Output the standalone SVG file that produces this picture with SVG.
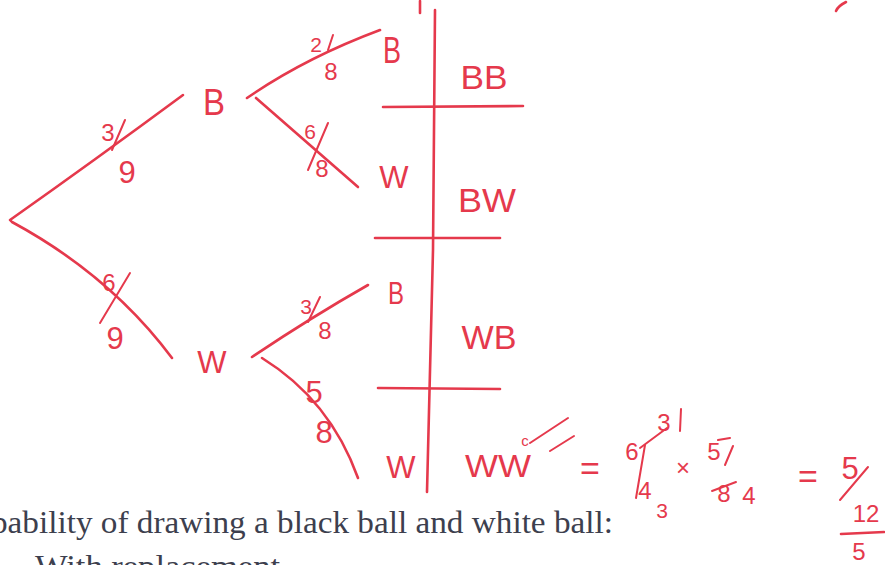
<svg xmlns="http://www.w3.org/2000/svg" width="885" height="565" viewBox="0 0 885 565">
<style>
.ln{fill:none;stroke:#e5394c;stroke-width:2.6;stroke-linecap:round;stroke-linejoin:round}
.thin{fill:none;stroke:#e5394c;stroke-width:2;stroke-linecap:round}
.hw{font-family:"Liberation Sans",Arial,sans-serif;fill:#e5394c;text-anchor:middle}
.big{font-size:36px}
.mid{font-size:31px}
.cell{font-size:34px}
.fr{font-size:24px}
.fs{font-size:21px}
.sm{font-size:15px}
.pr{font-family:"Liberation Serif","Times New Roman",serif;fill:#3d3f4e;font-size:31px}
</style>
<rect width="885" height="565" fill="#ffffff"/>

<g id="connectors">
  <path class="ln" d="M10,220 Q95,160 183,95"/>
  <path class="ln" d="M12,222 Q110,275 172,358"/>
  <path class="ln" d="M247,98 Q305,58 380,30"/>
  <path class="ln" d="M256,98 Q310,145 358,187"/>
  <path class="ln" d="M252,357 Q310,318 368,285"/>
  <path class="ln" d="M262,358 Q330,400 358,478"/>
</g>

<g id="table">
  <path class="ln" d="M435,10 L433,250 L427,492"/>
  <path class="ln" d="M420,1 L420,13"/>
  <path class="ln" d="M383,107 L523,106"/>
  <path class="ln" d="M375,238 L500,238"/>
  <path class="ln" d="M378,388 L500,389"/>
</g>

<g id="root"><circle cx="11" cy="221" r="1.2" fill="#e5394c"/></g>

<g id="node-B1"><text class="hw big" x="214" y="115" textLength="22" lengthAdjust="spacingAndGlyphs">B</text></g>
<g id="node-W1"><text class="hw mid" x="212" y="373">W</text></g>

<g id="leaf-BB"><text class="hw big" x="392" y="63" textLength="18" lengthAdjust="spacingAndGlyphs">B</text></g>
<g id="leaf-BW"><text class="hw mid" x="394" y="188">W</text></g>
<g id="leaf-WB"><text class="hw mid" x="396" y="304" textLength="16" lengthAdjust="spacingAndGlyphs">B</text></g>
<g id="leaf-WW"><text class="hw mid" x="401" y="478">W</text></g>

<g id="cell-BB"><text class="hw cell" x="484" y="89" textLength="47" lengthAdjust="spacingAndGlyphs">BB</text></g>
<g id="cell-BW"><text class="hw cell" x="487" y="212" textLength="58" lengthAdjust="spacingAndGlyphs">BW</text></g>
<g id="cell-WB"><text class="hw cell" x="489" y="349" textLength="55" lengthAdjust="spacingAndGlyphs">WB</text></g>

<g id="label-3-9">
  <text class="hw fr" x="108" y="141">3</text>
  <path class="thin" d="M125,120 L112,150"/>
  <text class="hw mid" x="127" y="183">9</text>
</g>
<g id="label-6-9">
  <text class="hw fr" x="109" y="291">6</text>
  <path class="thin" d="M130,273 L100,323"/>
  <text class="hw mid" x="115" y="349">9</text>
</g>
<g id="label-2-8">
  <text class="hw fs" x="316" y="52">2</text>
  <path class="thin" d="M333,35 L328,50"/>
  <text class="hw fr" x="331" y="80">8</text>
</g>
<g id="label-6-8">
  <text class="hw fs" x="310" y="139">6</text>
  <path class="thin" d="M328,123 L308,170"/>
  <text class="hw fr" x="322" y="177">8</text>
</g>
<g id="label-3-8">
  <text class="hw fs" x="306" y="314">3</text>
  <path class="thin" d="M320,297 L308,322"/>
  <text class="hw fr" x="325" y="339">8</text>
</g>
<g id="label-5-8">
  <text class="hw mid" x="314" y="403">5</text>
  <text class="hw mid" x="324" y="443">8</text>
</g>

<g id="calc">
  <text class="hw mid" x="498" y="477" textLength="66" lengthAdjust="spacingAndGlyphs">WW</text>
  <text class="hw sm" x="525" y="446">c</text>
  <path class="thin" d="M530,443 L568,418"/>
  <path class="thin" d="M550,451 L574,436"/>
  <text class="hw cell" x="590" y="480">=</text>
  <text class="hw fr" x="632" y="460">6</text>
  <text class="hw fr" x="664" y="431">3</text>
  <path class="thin" d="M681,409 L680,431"/>
  <path class="thin" d="M640,448 L667,428"/>
  <path class="thin" d="M636,498 L645,445"/>
  <text class="hw fr" x="645" y="499">4</text>
  <text class="hw fs" x="662" y="518">3</text>
  <text class="hw fr" x="683" y="476">×</text>
  <text class="hw fr" x="714" y="460">5</text>
  <path class="thin" d="M718,440 L730,438"/>
  <path class="thin" d="M733,446 L725,465"/>
  <text class="hw fr" x="724" y="502">8</text>
  <path class="thin" d="M712,491 L736,482"/>
  <text class="hw fr" x="749" y="504">4</text>
  <text class="hw cell" x="808" y="488">=</text>
  <text class="hw mid" x="850" y="479">5</text>
  <path class="thin" d="M868,467 L840,500"/>
  <text class="hw fr" x="866" y="522">12</text>
  <path class="ln" d="M841,534 L884,532"/>
  <text class="hw fr" x="859" y="560">5</text>
  <path class="ln" d="M846,2 Q838,6 836,11"/>
</g>

<g id="printed">
  <text class="pr" x="-9" y="533" textLength="622" lengthAdjust="spacingAndGlyphs">pability of drawing a black ball and white ball:</text>
  <text class="pr" x="35" y="577" textLength="245" lengthAdjust="spacingAndGlyphs">With replacement</text>
</g>
</svg>
